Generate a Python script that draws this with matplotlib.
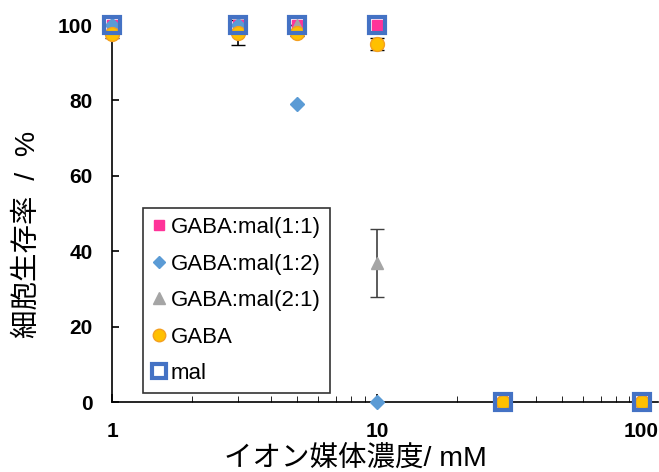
import numpy as np
import matplotlib
matplotlib.use('Agg')
import matplotlib.pyplot as plt

plt.rcParams['font.family'] = ['Liberation Sans', 'Noto Sans CJK JP', 'DejaVu Sans']

# data
conc = [1, 3, 5, 10, 30, 100]
mix11 = [100, 100, 100, 100, 0, 0]
mix12 = [100, 100, 79, 0, 0, 0]
mix21 = [100, 100, 100, 37, 0, 0]
mix21_err = [0, 0, 0, 9, 0, 0]
gaba = [97.5, 98, 98, 95, 0, 0]
gaba_err = [1.0, 3.2, 0.8, 1.5, 0, 0]
mal = [100, 100, 100, 100, 0, 0]

fig = plt.figure(figsize=(6.59, 4.72), dpi=100)
ax = fig.add_axes([0.170, 0.148, 0.828, 0.799])

# error bars
ax.errorbar(conc, mix21, yerr=mix21_err, fmt='none', ecolor='#404040', elinewidth=1.2, capsize=5, clip_on=False, zorder=2)
ax.errorbar(conc, gaba, yerr=gaba_err, fmt='none', ecolor='black', elinewidth=1.2, capsize=5, clip_on=False, zorder=2)

ax.plot(conc, mix11, 's', ms=7, color='#FF3399', ls='none', clip_on=False, zorder=3)
ax.plot(conc, mix21, '^', ms=8, color='#A5A5A5', ls='none', clip_on=False, zorder=4)
ax.plot(conc, mix12, 'D', ms=7, color='#5B9BD5', ls='none', clip_on=False, zorder=5)
ax.plot(conc, gaba, 'o', ms=10, mfc='#FFC000', mec='#F4A020', mew=1, ls='none', clip_on=False, zorder=6)
ax.plot(conc, mal, 's', ms=12, mfc='none', mec='#4472C4', mew=3, ls='none', clip_on=False, zorder=7)

# legend handles
h11, = ax.plot([], [], 's', ms=7, color='#FF3399', ls='none')
h12, = ax.plot([], [], 'D', ms=6, color='#5B9BD5', ls='none')
h21, = ax.plot([], [], '^', ms=8, color='#A5A5A5', ls='none')
hg, = ax.plot([], [], 'o', ms=9, mfc='#FFC000', mec='#F4A020', ls='none')
hm, = ax.plot([], [], 's', ms=10, mfc='white', mec='#4472C4', mew=3, ls='none')
leg = ax.legend([h11, h12, h21, hg, hm],
                ['GABA:mal(1:1)', 'GABA:mal(1:2)', 'GABA:mal(2:1)', 'GABA', 'mal'],
                loc='lower left', bbox_to_anchor=(0.057, 0.024), borderaxespad=0,
                fontsize=16, frameon=True, fancybox=False, edgecolor='black',
                handlelength=0.6, handletextpad=0.25, labelspacing=0.7,
                borderpad=0.4)
leg.get_frame().set_linewidth(1.2)

ax.set_xscale('log')
ax.set_xlim(1, 115)
ax.set_ylim(0, 100)
ax.set_yticks([0, 20, 40, 60, 80, 100])
ax.set_xticks([1, 10, 100])
ax.set_xticklabels(['1', '10', '100'])
ax.tick_params(axis='both', labelsize=15, width=1.2)
ax.tick_params(axis='y', direction='in', length=5, pad=14)
ax.tick_params(axis='x', which='major', direction='in', length=6, pad=14)
ax.tick_params(axis='x', which='minor', direction='in', length=4)
for lab in ax.get_xticklabels() + ax.get_yticklabels():
    lab.set_fontweight('bold')

ax.spines['top'].set_visible(False)
ax.spines['right'].set_visible(False)
ax.spines['left'].set_linewidth(1.2)
ax.spines['bottom'].set_linewidth(1.2)

ax.set_ylabel('細胞生存率  /  %', fontsize=20.5)
ax.set_xlabel('イオン媒体濃度/ mM', fontsize=20.5)
ax.yaxis.set_label_coords(-0.13, 0.444)
ax.xaxis.set_label_coords(0.446, -0.114)

fig.savefig('out.png', dpi=100)
